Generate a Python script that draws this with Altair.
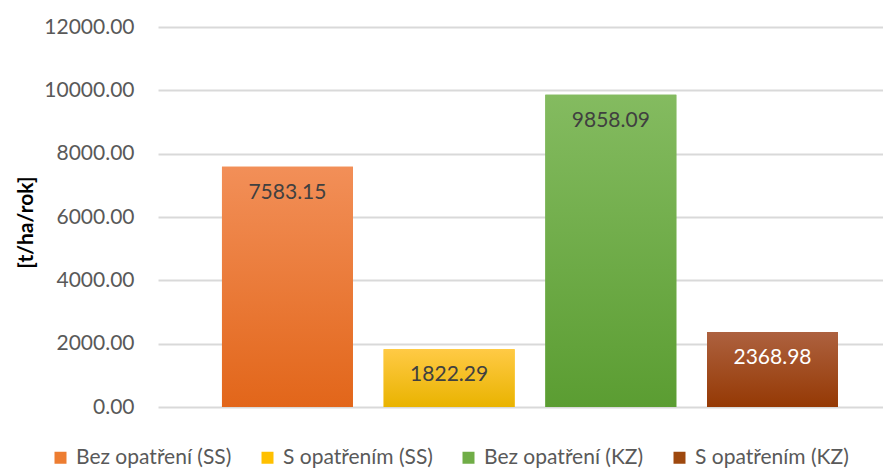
import altair as alt
import pandas as pd

series = ["Bez opatření (SS)", "S opatřením (SS)", "Bez opatření (KZ)", "S opatřením (KZ)"]
values = [7583.15, 1822.29, 9858.09, 2368.98]
y_ticks = [0, 2000, 4000, 6000, 8000, 10000, 12000]

base_colors = ["#ED7D31", "#FFC000", "#70AD47", "#9E480E"]
top_colors = ["#F28F58", "#FFCA45", "#84BB60", "#AD613F"]
bottom_colors = ["#E2661A", "#E9B300", "#5B9D32", "#953904"]

df = pd.DataFrame({"series": series, "value": values})

FONT = "Lato"

x_enc = alt.X(
    "series:N",
    sort=series,
    axis=None,
    scale=alt.Scale(paddingInner=0.19, paddingOuter=0.337, align=0.587),
)
y_enc = alt.Y(
    "value:Q",
    scale=alt.Scale(domain=[0, 12000], nice=False),
    axis=alt.Axis(
        values=y_ticks,
        format=".2f",
        title="[t/ha/rok]",
        titleFont=FONT,
        titleFontSize=21,
        titleFontWeight="bold",
        titleColor="#000000",
        titleAngle=270,
        titleX=-132,
        titleY=195,
        titleAlign="center",
        titleBaseline="middle",
        labelFont=FONT,
        labelFontSize=21,
        labelColor="#595959",
        labelPadding=24,
        ticks=False,
        domain=False,
        grid=True,
        gridColor="#D9D9D9",
        gridWidth=2,
    ),
)

legend_layer = alt.Chart(df).mark_bar().encode(
    x=x_enc,
    y=y_enc,
    color=alt.Color(
        "series:N",
        sort=series,
        scale=alt.Scale(domain=series, range=base_colors),
        legend=alt.Legend(
            title=None,
            orient="none",
            legendX=-108,
            legendY=420,
            direction="horizontal",
            columns=4,
            symbolType="square",
            symbolSize=144,
            symbolStrokeWidth=0,
            symbolOpacity=1,
            labelFont=FONT,
            labelFontSize=21,
            labelColor="#595959",
            labelOffset=5,
            labelLimit=400,
            columnPadding=25,
        ),
    ),
)

grad_layers = []
for s, t, b in zip(series, top_colors, bottom_colors):
    grad_layers.append(
        alt.Chart(df)
        .transform_filter(alt.datum.series == s)
        .mark_bar(
            color=alt.Gradient(
                gradient="linear",
                stops=[
                    alt.GradientStop(color=t, offset=0),
                    alt.GradientStop(color=b, offset=1),
                ],
                x1=0, x2=0, y1=0, y2=1,
            )
        )
        .encode(x=x_enc, y=y_enc)
    )

text_layer = alt.Chart(df).mark_text(
    baseline="middle", align="center", dy=26, font=FONT, fontSize=21
).encode(
    x=x_enc,
    y=y_enc,
    text=alt.Text("value:Q", format=".2f"),
    color=alt.condition(
        alt.datum.series == series[3], alt.value("#FFFFFF"), alt.value("#404040")
    ),
)

chart = (
    alt.layer(legend_layer, *grad_layers, text_layer)
    .properties(
        width=725,
        height=380,
        padding={"left": 150, "top": 19, "right": 0, "bottom": 61},
        autosize=alt.AutoSizeParams(type="none"),
    )
    .configure_view(stroke=None)
)

chart.save("out.html", embed_options={"renderer": "svg", "actions": False})
